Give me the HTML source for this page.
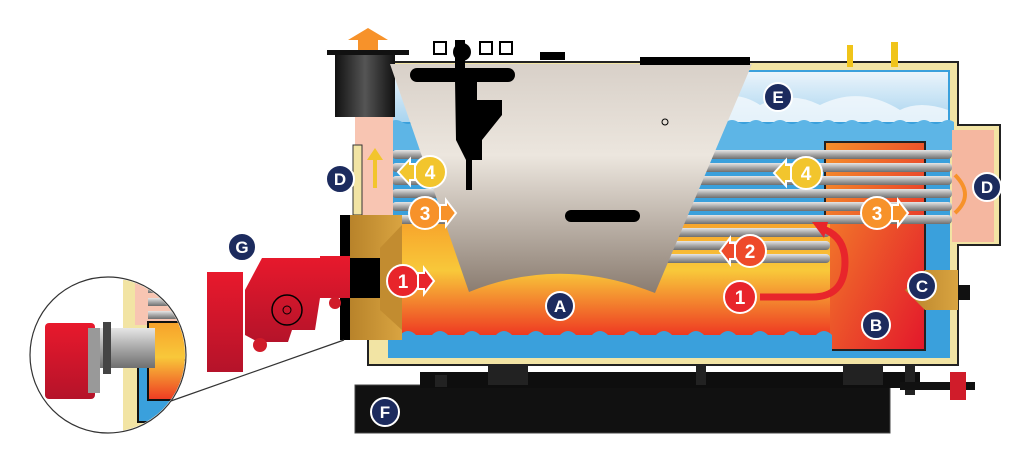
<!DOCTYPE html>
<html><head><meta charset="utf-8"><style>
html,body{margin:0;padding:0;background:#fff;width:1024px;height:472px;overflow:hidden}
text{font-family:"Liberation Sans",sans-serif;font-weight:bold}
</style></head><body>
<svg width="1024" height="472" viewBox="0 0 1024 472" xmlns="http://www.w3.org/2000/svg">
<defs>
<linearGradient id="fire" x1="0" y1="0" x2="0" y2="1"><stop offset="0" stop-color="#f7a12a"/><stop offset="0.45" stop-color="#f8c83a"/><stop offset="1" stop-color="#ee3a22"/></linearGradient>
<linearGradient id="fireB" x1="0" y1="0" x2="1" y2="1"><stop offset="0" stop-color="#f5902a"/><stop offset="1" stop-color="#e3172b"/></linearGradient>
<linearGradient id="tube" x1="0" y1="0" x2="0" y2="1"><stop offset="0" stop-color="#e6e6e6"/><stop offset="0.5" stop-color="#a8a8a8"/><stop offset="1" stop-color="#6f6f6f"/></linearGradient>
<linearGradient id="gray" x1="0" y1="0" x2="0" y2="1"><stop offset="0" stop-color="#d8d0c8"/><stop offset="0.4" stop-color="#ece6de"/><stop offset="1" stop-color="#8a7c70"/></linearGradient>
<linearGradient id="sky" x1="0" y1="0" x2="0" y2="1"><stop offset="0" stop-color="#eaf4fb"/><stop offset="1" stop-color="#a9d4ef"/></linearGradient>
<linearGradient id="gold" x1="0" y1="0" x2="1" y2="0"><stop offset="0" stop-color="#b8832a"/><stop offset="1" stop-color="#d9a441"/></linearGradient>
<linearGradient id="red" x1="0" y1="0" x2="0" y2="1"><stop offset="0" stop-color="#e8192c"/><stop offset="1" stop-color="#b5132a"/></linearGradient>
<linearGradient id="blk" x1="0" y1="0" x2="1" y2="0"><stop offset="0" stop-color="#111"/><stop offset="0.5" stop-color="#555"/><stop offset="1" stop-color="#111"/></linearGradient>
</defs>

<!-- base -->
<rect x="355" y="385" width="535" height="48" fill="#111" stroke="#444"/>
<rect x="420" y="372" width="500" height="16" fill="#0e0e0e"/>
<rect x="488" y="355" width="40" height="30" fill="#222"/>
<rect x="843" y="355" width="40" height="30" fill="#222"/>
<rect x="696" y="360" width="10" height="25" fill="#222"/>
<rect x="905" y="360" width="10" height="35" fill="#222"/>
<rect x="435" y="375" width="12" height="12" fill="#222"/>
<rect x="900" y="382" width="75" height="8" fill="#111"/>
<rect x="950" y="372" width="16" height="28" fill="#d01c2a"/>

<!-- insulation shell -->
<path d="M368 62 H958 V125 H1000 V245 H958 V365 H368 Z" fill="#f2e4a4" stroke="#222" stroke-width="2"/>
<rect x="388" y="70" width="562" height="288" fill="#3aa0dc"/>
<rect x="390" y="72" width="558" height="50" fill="url(#sky)"/>
<path d="M700 110 q30 -25 60 -5 q30 -15 60 0 q40 -20 80 5 q20 -10 48 0 V122 H700Z" fill="#f4f9fd" opacity="0.8"/>
<path d="M390 122 q6 -4 12 0 t12 0 t12 0 t12 0 t12 0 t12 0 t12 0 t12 0 t12 0 t12 0 t12 0 t12 0 t12 0 t12 0 t12 0 t12 0 t12 0 t12 0 t12 0 t12 0 t12 0 t12 0 t12 0 t12 0 t12 0 t12 0 t12 0 t12 0 t12 0 t12 0 t12 0 t12 0 t12 0 t12 0 t12 0 t12 0 t12 0 t12 0 t12 0 t12 0 t12 0 t12 0 t12 0 t12 0 t12 0 t12 0 t12 0 V150 H390Z" fill="#5db5e6"/>
<rect x="952" y="130" width="42" height="112" fill="#f5b7a0"/>
<rect x="825" y="142" width="100" height="208" fill="url(#fireB)" stroke="#222" stroke-width="2"/>
<path d="M400 218 H830 V335 H400Z" fill="url(#fire)"/>
<path d="M400 335 q8 -8 16 0 t16 0 t16 0 t16 0 t16 0 t16 0 t16 0 t16 0 t16 0 t16 0 t16 0 t16 0 t16 0 t16 0 t16 0 t16 0 t16 0 t16 0 t16 0 t16 0 t16 0 t16 0 t16 0 t16 0 t16 0 t16 0 t16 0 V358 H400Z" fill="#3aa0dc"/>
<g fill="url(#tube)">
<rect x="392" y="150" width="560" height="9" rx="4"/>
<rect x="392" y="163" width="560" height="9" rx="4"/>
<rect x="392" y="176" width="560" height="9" rx="4"/>
<rect x="392" y="189" width="560" height="9" rx="4"/>
<rect x="392" y="202" width="560" height="9" rx="4"/>
<rect x="392" y="215" width="560" height="9" rx="4"/>
<rect x="650" y="228" width="180" height="9" rx="4"/>
<rect x="650" y="241" width="180" height="9" rx="4"/>
<rect x="650" y="254" width="180" height="9" rx="4"/>
</g>
<rect x="355" y="115" width="38" height="100" fill="#f8c5b2"/>
<rect x="353" y="145" width="9" height="70" fill="#f2e4a4" stroke="#333"/>
<rect x="335" y="52" width="60" height="65" fill="url(#blk)"/>
<rect x="327" y="50" width="82" height="5" fill="#111"/>
<path d="M358 50 V40 H348 L368 28 L388 40 H378 V50Z" fill="#f7922a"/>
<rect x="340" y="215" width="12" height="125" fill="#000"/>
<path d="M350 215 H402 V340 H350Z" fill="url(#gold)"/>
<path d="M380 248 L402 225 V330 L380 310Z" fill="#c28c30"/>
<rect x="348" y="258" width="32" height="40" fill="#000"/>
<path d="M390 64 H752 L655 293 Q560 255 469 292 Z" fill="url(#gray)"/>
<g fill="#000">
<rect x="410" y="68" width="105" height="14" rx="7"/>
<rect x="455" y="40" width="10" height="30"/><circle cx="462" cy="52" r="9"/>
<path d="M455 80 h22 v20 h25 v15 l-20 25 v20 h-10 v30 h-6 v-30 l-10 -20z"/>
<rect x="565" y="210" width="75" height="12" rx="6"/>
<rect x="640" y="57" width="110" height="8"/>
<rect x="540" y="52" width="25" height="8"/>
</g>
<g fill="none" stroke="#000" stroke-width="2">
<rect x="434" y="42" width="12" height="12"/><rect x="480" y="42" width="12" height="12"/><rect x="500" y="42" width="12" height="12"/>
</g>
<circle cx="665" cy="122" r="3" fill="none" stroke="#000"/>
<rect x="847" y="45" width="6" height="22" fill="#f0c419"/><rect x="891" y="42" width="7" height="25" fill="#f0c419"/>
<rect x="925" y="285" width="45" height="15" fill="#111"/>
<path d="M925 270 H958 V310 H925 L905 290Z" fill="url(#gold)"/>

<path d="M760 297 H812 Q845 297 845 262 Q845 235 820 228" fill="none" stroke="#e8252b" stroke-width="7"/>
<path d="M812 222 L824 238 L828 222Z" fill="#e8252b"/>
<path d="M955 175 Q975 195 955 213" fill="none" stroke="#f7922a" stroke-width="4"/>
<path d="M375 188 V160" stroke="#f2c52d" stroke-width="4" fill="none"/>
<path d="M367 160 L375 148 L383 160Z" fill="#f2c52d"/>

<g stroke="#fff" stroke-width="2">
<circle cx="403" cy="281" r="16" fill="#e8252b"/><path d="M418 273 h6 v-5 l10 13 l-10 13 v-5 h-6z" fill="#e8252b"/>
<circle cx="740" cy="297" r="16" fill="#e8252b"/>
<circle cx="750" cy="251" r="16" fill="#ee4a2a"/><path d="M735 243 h-5 v-5 l-10 13 l10 13 v-5 h5z" fill="#ee4a2a"/>
<circle cx="425" cy="213" r="16" fill="#f7922a"/><path d="M440 205 h6 v-5 l10 13 l-10 13 v-5 h-6z" fill="#f7922a"/>
<circle cx="877" cy="213" r="16" fill="#f7922a"/><path d="M892 205 h6 v-5 l10 13 l-10 13 v-5 h-6z" fill="#f7922a"/>
<circle cx="430" cy="172" r="16" fill="#f2c52d"/><path d="M415 164 h-5 v-5 l-12 13 l12 13 v-5 h5z" fill="#f2c52d"/>
<circle cx="806" cy="173" r="16" fill="#f2c52d"/><path d="M791 165 h-5 v-5 l-12 13 l12 13 v-5 h5z" fill="#f2c52d"/>
</g>
<g fill="#fff" font-size="19" text-anchor="middle">
<text x="403" y="288">1</text><text x="740" y="304">1</text><text x="750" y="258">2</text>
<text x="425" y="220">3</text><text x="877" y="220">3</text><text x="430" y="179">4</text><text x="806" y="180">4</text>
</g>

<!-- burner G -->
<rect x="207" y="272" width="36" height="100" fill="url(#red)"/>
<path d="M245 325 V290 L262 258 H320 V256 H350 V298 H320 L315 330 H292 L288 342 H258 L245 335Z" fill="url(#red)"/>
<circle cx="287" cy="310" r="15" fill="none" stroke="#000" stroke-width="1.5"/><circle cx="287" cy="310" r="4" fill="none" stroke="#000"/>
<circle cx="260" cy="345" r="7" fill="#d01c2a"/><circle cx="335" cy="303" r="6" fill="#d01c2a"/>

<line x1="168" y1="402" x2="344" y2="340" stroke="#333" stroke-width="1.2"/>
<circle cx="108" cy="355" r="78" fill="#fff" stroke="#333" stroke-width="1.2"/>
<clipPath id="mc"><circle cx="108" cy="355" r="77"/></clipPath>
<g clip-path="url(#mc)">
<rect x="123" y="280" width="60" height="160" fill="#f2e4a4"/>
<rect x="135" y="280" width="60" height="45" fill="#f8c5b2"/>
<rect x="148" y="285" width="40" height="8" fill="url(#tube)"/><rect x="148" y="298" width="40" height="8" fill="url(#tube)"/><rect x="148" y="311" width="40" height="8" fill="url(#tube)"/>
<rect x="138" y="360" width="60" height="62" fill="#3aa0dc" stroke="#111" stroke-width="2"/>
<rect x="148" y="322" width="50" height="78" fill="url(#fire)" stroke="#111" stroke-width="2"/>
<rect x="100" y="328" width="55" height="40" fill="url(#tube)"/>
<rect x="103" y="322" width="8" height="52" fill="#444"/>
<rect x="45" y="323" width="50" height="76" rx="4" fill="url(#red)"/>
<rect x="88" y="328" width="12" height="65" fill="#999"/>
</g>

<g fill="#1c2b5e" stroke="#fff" stroke-width="2">
<circle cx="560" cy="306" r="14"/><circle cx="876" cy="325" r="14"/><circle cx="922" cy="286" r="14"/>
<circle cx="340" cy="179" r="14"/><circle cx="987" cy="187" r="14"/><circle cx="778" cy="97" r="14"/>
<circle cx="385" cy="412" r="14"/><circle cx="242" cy="247" r="14"/>
</g>
<g fill="#fff" font-size="17" text-anchor="middle">
<text x="560" y="312">A</text><text x="876" y="331">B</text><text x="922" y="292">C</text>
<text x="340" y="185">D</text><text x="987" y="193">D</text><text x="778" y="103">E</text>
<text x="385" y="418">F</text><text x="242" y="253">G</text>
</g>
</svg>
</body></html>
